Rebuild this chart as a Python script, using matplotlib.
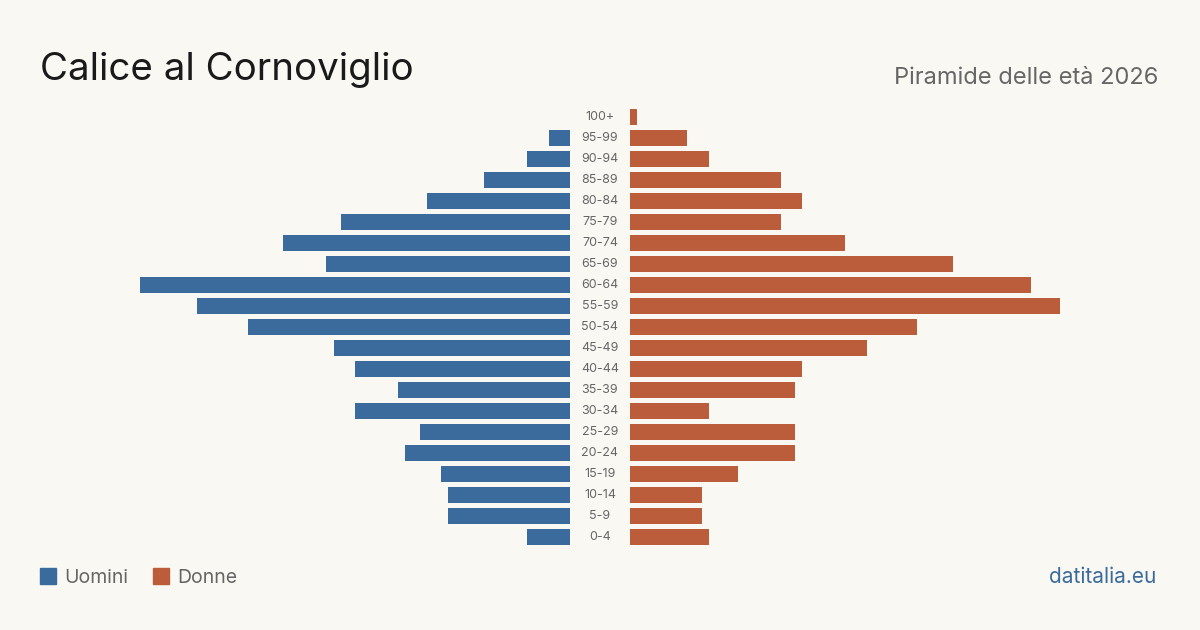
import matplotlib.pyplot as plt
import matplotlib.transforms as mtransforms
from matplotlib.patches import Rectangle

plt.rcParams['font.family'] = ['Inter', 'DejaVu Sans']

# Classi di età, dal basso verso l'alto
eta = ['0-4', '5-9', '10-14', '15-19', '20-24', '25-29', '30-34', '35-39',
       '40-44', '45-49', '50-54', '55-59', '60-64', '65-69', '70-74', '75-79',
       '80-84', '85-89', '90-94', '95-99', '100+']
uomini = [6, 17, 17, 18, 23, 21, 30, 24, 30, 33, 45, 52, 60, 34, 40, 32,
          20, 12, 6, 3, 0]
donne = [11, 10, 10, 15, 23, 23, 11, 23, 24, 33, 40, 60, 56, 45, 30, 21,
         24, 21, 11, 8, 1]

sfondo = '#f9f8f3'
blu = '#3b6b9c'
arancio = '#bb5c3b'
grigio = '#666666'

W, H = 1200, 630
fig = plt.figure(figsize=(12, 6.3), dpi=100, facecolor=sfondo)

bottom = (H - 547.5) / H
height = 441 / H
ax_u = fig.add_axes([140 / W, bottom, 430 / W, height])
ax_d = fig.add_axes([630 / W, bottom, 430 / W, height])

pos = list(range(len(eta)))
ax_u.barh(pos, uomini, height=0.8, color=blu)
ax_d.barh(pos, donne, height=0.8, color=arancio)

ax_u.set_xlim(60, 0)
ax_d.set_xlim(0, 60)
for ax in (ax_u, ax_d):
    ax.set_ylim(-0.5, len(eta) - 0.5)
    ax.set_facecolor('none')
    ax.axis('off')

# Etichette delle età al centro
trans = mtransforms.blended_transform_factory(fig.transFigure, ax_u.transData)
for p, e in zip(pos, eta):
    ax_u.text(600 / W, p, e, transform=trans, ha='center', va='center',
              fontsize=9, color=grigio)

# Titoli
fig.text(40 / W, 1 - 80 / H, 'Calice al Cornoviglio', fontsize=27.7,
         color='#1a1a1a', ha='left', va='baseline')
fig.text(1158 / W, 1 - 84 / H, 'Piramide delle età 2026', fontsize=17,
         color=grigio, ha='right', va='baseline')

# Legenda
fig.patches.append(Rectangle((40 / W, 1 - 584 / H), 16 / W, 16 / H,
                             transform=fig.transFigure, color=blu))
fig.text(64 / W, 1 - 583 / H, 'Uomini', fontsize=14, color=grigio,
         ha='left', va='baseline')
fig.patches.append(Rectangle((153 / W, 1 - 584 / H), 16 / W, 16 / H,
                             transform=fig.transFigure, color=arancio))
fig.text(177 / W, 1 - 583 / H, 'Donne', fontsize=14, color=grigio,
         ha='left', va='baseline')

fig.text(1156 / W, 1 - 583 / H, 'datitalia.eu', fontsize=15, color=blu,
         ha='right', va='baseline')

fig.savefig('out.png', dpi=100, facecolor=sfondo)
